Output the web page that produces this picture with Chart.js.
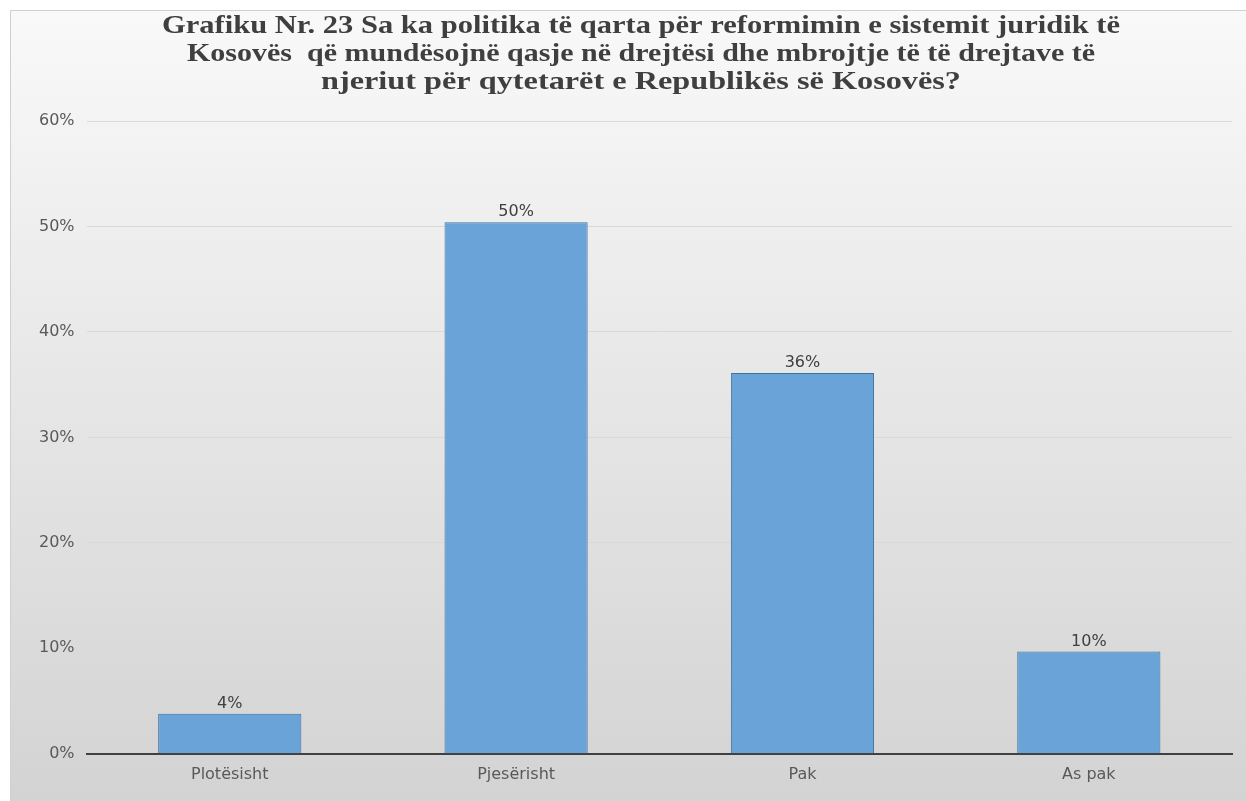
<!DOCTYPE html>
<html>
<head>
<meta charset="utf-8">
<script src="https://cdn.jsdelivr.net/npm/chart.js@4.4.0/dist/chart.umd.min.js"></script>
<style>
  html, body { margin: 0; padding: 0; background: #ffffff; }
  #wrap { width: 1246px; height: 801px; }
</style>
</head>
<body>
<div id="wrap"><canvas id="chart" width="1246" height="801"></canvas></div>
<script>
  // të dhënat e grafikut
  const categories = ["Plotësisht", "Pjesërisht", "Pak", "As pak"];
  const shares = [3.8, 50.4, 36.1, 9.7];
  const titleLines = [
    "Grafiku Nr. 23 Sa ka politika të qarta për reformimin e sistemit juridik të",
    "Kosovës  që mundësojnë qasje në drejtësi dhe mbrojtje të të drejtave të",
    "njeriut për qytetarët e Republikës së Kosovës?"
  ];

  // sfondi me gradient si në origjinal
  const bgPlugin = {
    id: "bg",
    beforeDraw(chart) {
      const ctx = chart.ctx;
      const w = chart.width, h = chart.height;
      ctx.save();
      ctx.fillStyle = "#ffffff";
      ctx.fillRect(0, 0, w, h);
      const g = ctx.createLinearGradient(0, 10, 0, h);
      g.addColorStop(0, "#f9f9f9");
      g.addColorStop(0.5, "#e6e6e6");
      g.addColorStop(1, "#d3d3d3");
      ctx.fillStyle = g;
      ctx.fillRect(10, 10, w - 10, h - 10);
      ctx.strokeStyle = "#d0d0d0";
      ctx.lineWidth = 1;
      ctx.strokeRect(10.5, 10.5, w - 10, h - 10);
      ctx.restore();
    }
  };

  // titulli, i ngjeshur horizontalisht si në figurë
  const titlePlugin = {
    id: "titleDraw",
    afterDraw(chart) {
      const ctx = chart.ctx;
      const widths = [958, 908, 640];
      const ys = [33, 61, 89];
      ctx.save();
      ctx.font = "bold 26px 'Liberation Serif', 'Times New Roman', serif";
      ctx.fillStyle = "#3f3f3f";
      ctx.textAlign = "center";
      ctx.textBaseline = "alphabetic";
      titleLines.forEach((line, i) => {
        const m = ctx.measureText(line).width;
        ctx.save();
        ctx.translate(641, ys[i]);
        ctx.scale(widths[i] / m, 1);
        ctx.fillText(line, 0, 0);
        ctx.restore();
      });
      ctx.restore();
    }
  };

  // etiketat e vlerave mbi shtylla
  const labelPlugin = {
    id: "valueLabels",
    afterDatasetsDraw(chart) {
      const ctx = chart.ctx;
      const meta = chart.getDatasetMeta(0);
      ctx.save();
      ctx.font = "16px 'DejaVu Sans', sans-serif";
      ctx.fillStyle = "#404040";
      ctx.textAlign = "center";
      ctx.textBaseline = "bottom";
      meta.data.forEach((bar, i) => {
        ctx.fillText(Math.round(shares[i]) + "%", bar.x, bar.y - 2);
      });
      ctx.restore();
    }
  };

  const ctx = document.getElementById("chart").getContext("2d");
  new Chart(ctx, {
    type: "bar",
    data: {
      labels: categories,
      datasets: [{
        data: shares,
        backgroundColor: "#6aa3d8",
        borderColor: "#41719c",
        borderWidth: 1,
        categoryPercentage: 1,
        barPercentage: 0.5
      }]
    },
    options: {
      responsive: false,
      animation: false,
      layout: { padding: { top: 121, left: 27, right: 14, bottom: 6 } },
      plugins: {
        legend: { display: false },
        tooltip: { enabled: false }
      },
      scales: {
        x: {
          grid: { display: false, drawTicks: false },
          border: { color: "#404040", width: 2 },
          ticks: {
            color: "#595959",
            padding: 11,
            font: { family: "'DejaVu Sans', sans-serif", size: 16 }
          }
        },
        y: {
          min: 0,
          max: 60,
          grid: { color: "#d9d9d9", drawTicks: false },
          border: { display: false },
          ticks: {
            stepSize: 10,
            color: "#595959",
            padding: 12,
            font: { family: "'DejaVu Sans', sans-serif", size: 16 },
            callback: (v) => v + "%"
          }
        }
      }
    },
    plugins: [bgPlugin, titlePlugin, labelPlugin]
  });
</script>
</body>
</html>
